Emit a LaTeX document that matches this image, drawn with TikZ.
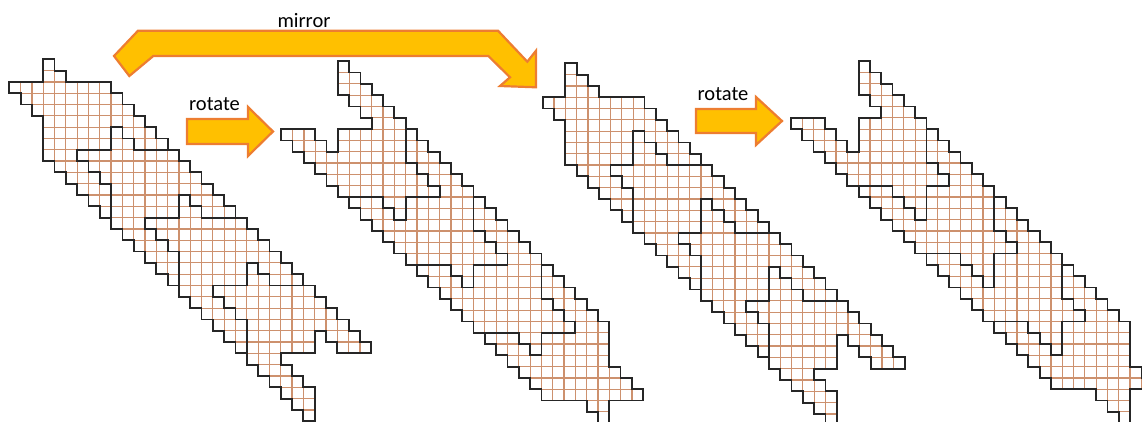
\documentclass[tikz,border=0pt]{standalone}
\usepackage{fontspec}
\setmainfont{Carlito}
\definecolor{arrowfill}{HTML}{FFC000}
\definecolor{arrowline}{HTML}{ED7D31}
\definecolor{gridcol}{RGB}{205,145,110}
\tikzset{
  gridc/.style={draw=gridcol, line width=1.2pt},
  outl/.style={draw=black!85, line width=1.8pt, line join=miter},
  blockarrow/.style={fill=arrowfill, draw=arrowline, line width=2.2pt, line join=miter},
  lbl/.style={font=\fontsize{20.5}{24}\selectfont, text=black, inner sep=0pt, anchor=base}
}
\newcommand\rowsA{0/3/3,1/3/4,2/0/8,3/1/9,4/2/10,5/3/11,6/3/8,6/10/12,7/3/8,7/11/13,8/3/5,9/4/6,10/5/7,11/6/8,12/7/8,13/8/8}
\newcommand\tilegrid{%
  \foreach \ry/\ca/\cb in \rowsA {%
    \pgfmathtruncatemacro\cbb{\cb+1}%
    \pgfmathtruncatemacro\ryy{\ry+1}%
    \draw[gridc] (\ca,\ry) -- (\cbb,\ry) (\ca,\ryy) -- (\cbb,\ryy);
    \foreach \cc in {\ca,...,\cbb} {\draw[gridc] (\cc,\ry) -- (\cc,\ryy);}
  }%
}
\newcommand\tileoutline{%
  \draw[outl] (3,0) -- (4,0) -- (4,1) -- (5,1) -- (5,2) -- (9,2) -- (9,3) -- (10,3) -- (10,4) -- (11,4) -- (11,5) -- (12,5) -- (12,6) -- (13,6) -- (13,7) -- (14,7) -- (14,8) -- (11,8) -- (11,7) -- (10,7) -- (10,6) -- (9,6) -- (9,8) -- (6,8) -- (6,9) -- (7,9) -- (7,10) -- (8,10) -- (8,11) -- (9,11) -- (9,14) -- (8,14) -- (8,13) -- (7,13) -- (7,12) -- (6,12) -- (6,11) -- (5,11) -- (5,10) -- (4,10) -- (4,9) -- (3,9) -- (3,5) -- (2,5) -- (2,4) -- (1,4) -- (1,3) -- (0,3) -- (0,2) -- (3,2) -- cycle;
}
\newcommand\drawshape{%
  \foreach \k in {0,6,12,18}{\begin{scope}[shift={(\k,\k)}]\tilegrid\end{scope}}%
  \foreach \k in {0,6,12,18}{\begin{scope}[shift={(\k,\k)}]\tileoutline\end{scope}}%
}
\begin{document}
\begin{tikzpicture}[x=1pt,y=-1pt]
\useasboundingbox (0,0) rectangle (1142,422);
\clip (0,0) rectangle (1142,422);
% shape 1 (original)
\begin{scope}[shift={(9.3pt,-59.3pt)}, x={(11.31pt,0pt)}, y={(0pt,-11.31pt)}]
  \drawshape
\end{scope}
% shape 2 (rotated 180)
\begin{scope}[shift={(643.2pt,-423.2pt)}, x={(-11.31pt,0pt)}, y={(0pt,11.31pt)}]
  \drawshape
\end{scope}
% shape 3 (mirrored)
\begin{scope}[shift={(542.7pt,-63.3pt)}, x={(0pt,-11.31pt)}, y={(11.31pt,0pt)}]
  \drawshape
\end{scope}
% shape 4 (mirrored + rotated)
\begin{scope}[shift={(1152.7pt,-423.2pt)}, x={(0pt,11.31pt)}, y={(-11.31pt,0pt)}]
  \drawshape
\end{scope}
% arrows
\draw[blockarrow] (187,119) -- (248,119) -- (248,107) -- (273,131.5) -- (248,156) -- (248,144) -- (187,144) -- cycle;
\draw[blockarrow] (696,109) -- (756,109) -- (756,97) -- (782,121) -- (756,145) -- (756,133) -- (696,133) -- cycle;
\draw[blockarrow] (138,30.7) -- (498,30.7) -- (527.3,61.7) -- (536,50.7) -- (536,87.3) -- (500,86) -- (510,77.3) -- (488.3,56) -- (153.3,56) -- (129.3,76) -- (114,56) -- cycle;
% labels
\node[lbl] (mirrorlbl) at (304,28) {mirror};
\node[lbl] (rotA) at (214.5,111) {rotate};
\node[lbl] (rotB) at (723,101) {rotate};
\end{tikzpicture}
\end{document}
